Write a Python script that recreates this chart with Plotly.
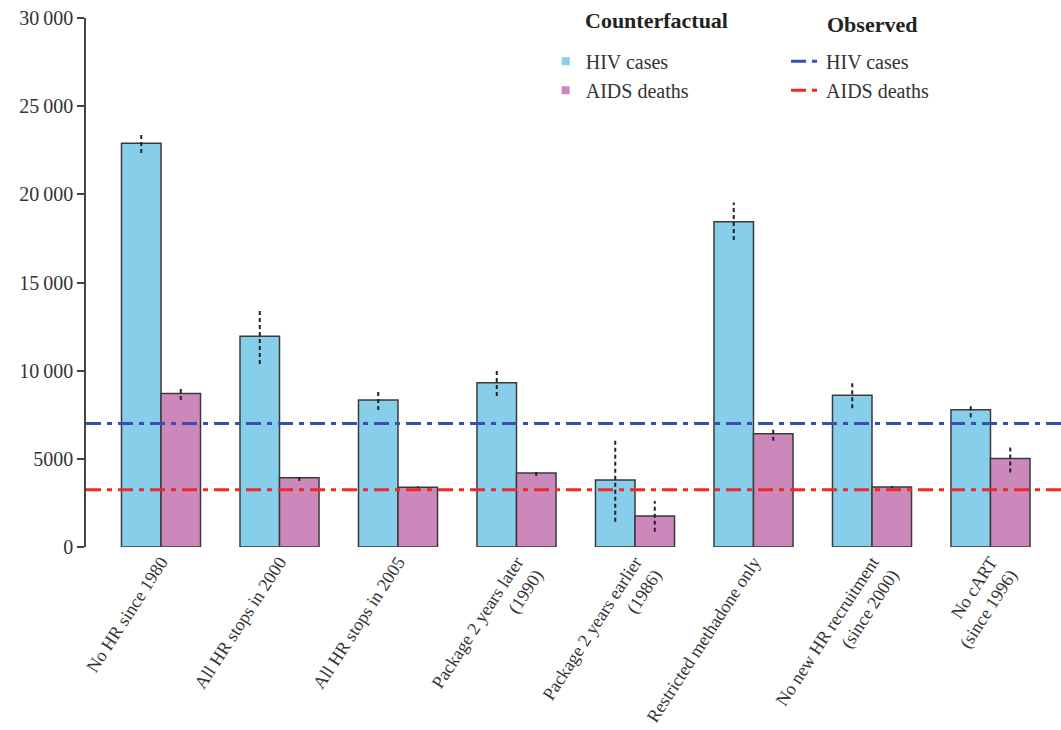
import plotly.graph_objects as go

# Scenario labels (x axis)
scenarios = [
    "No HR since 1980",
    "All HR stops in 2000",
    "All HR stops in 2005",
    "Package 2 years later<br>(1990)",
    "Package 2 years earlier<br>(1986)",
    "Restricted methadone only",
    "No new HR recruitment<br>(since 2000)",
    "No cART<br>(since 1996)",
]

# Counterfactual HIV cases: estimate, lower, upper
hiv_cases = [22900, 11950, 8330, 9320, 3800, 18450, 8600, 7780]
hiv_low = [22340, 10380, 7770, 8560, 1430, 17410, 7870, 7360]
hiv_high = [23480, 13550, 8900, 10040, 6170, 19530, 9280, 8110]

# Counterfactual AIDS deaths: estimate, lower, upper
aids_deaths = [8700, 3930, 3390, 4200, 1760, 6420, 3400, 5020]
aids_low = [8340, 3740, 3330, 4030, 870, 6030, 3340, 4220]
aids_high = [9020, 4140, 3440, 4420, 2610, 6820, 3460, 5790]

# Observed totals
observed_hiv = 7000
observed_aids = 3250

# Y axis ticks
y_ticks = [0, 5000, 10000, 15000, 20000, 25000, 30000]
y_tick_text = ["0", "5000", "10\u2009000", "15\u2009000", "20\u2009000", "25\u2009000", "30\u2009000"]

FONT = "Liberation Serif"
TXT = "#333333"
BLUE_FILL = "#87CEEB"
PINK_FILL = "#CC88BB"
OUTLINE = "#3a3a3a"

pos = list(range(len(scenarios)))
half = 1 / 6  # half of one bar's width within a group

fig = go.Figure()

fig.add_trace(go.Bar(
    x=pos, y=hiv_cases, name="HIV cases", showlegend=False,
    marker=dict(color=BLUE_FILL, line=dict(color=OUTLINE, width=1.5)),
))
fig.add_trace(go.Bar(
    x=pos, y=aids_deaths, name="AIDS deaths", showlegend=False,
    marker=dict(color=PINK_FILL, line=dict(color=OUTLINE, width=1.5)),
))

# Small square keys for the counterfactual legend
for nm, col in [("HIV cases", BLUE_FILL), ("AIDS deaths", PINK_FILL)]:
    fig.add_trace(go.Scatter(
        x=[None], y=[None], mode="markers", name=nm, legend="legend",
        marker=dict(symbol="square", size=8, color=col, line=dict(width=0)),
    ))

# Dashed uncertainty ranges
def ranges(offset, lows, highs):
    xs, ys = [], []
    for p, lo, hi in zip(pos, lows, highs):
        xs += [p + offset, p + offset, None]
        ys += [lo, hi, None]
    return xs, ys

for off, lo, hi in [(-half, hiv_low, hiv_high), (half, aids_low, aids_high)]:
    xs, ys = ranges(off, lo, hi)
    fig.add_trace(go.Scatter(
        x=xs, y=ys, mode="lines", showlegend=False, hoverinfo="skip",
        line=dict(color="#222222", width=2, dash="4px,3px"),
    ))

# Observed reference lines spanning the plot
x_range = [-0.633, 7.595]
for val, col, nm in [(observed_hiv, "#3A4DB0", "HIV cases"), (observed_aids, "#F02828", "AIDS deaths")]:
    fig.add_trace(go.Scatter(
        x=x_range, y=[val, val], mode="lines", name=nm, legend="legend2",
        line=dict(color=col, width=3, dash="15px,6px,5px,6px"),
    ))

legend_style = dict(
    xanchor="left", yanchor="top", bgcolor="rgba(0,0,0,0)",
    font=dict(family=FONT, size=20, color=TXT), tracegroupgap=0, itemwidth=30,
)

fig.update_layout(
    width=1061, height=730,
    margin=dict(l=86, r=0, t=18, b=183),
    paper_bgcolor="white", plot_bgcolor="white",
    font=dict(family=FONT, size=18, color=TXT),
    barmode="group", bargap=0.333, bargroupgap=0,
    showlegend=True,
    legend=dict(x=0.4715, y=0.955, **legend_style),
    legend2=dict(x=0.718, y=0.955, **legend_style),
    xaxis=dict(
        range=x_range, tickvals=pos, ticktext=scenarios, tickangle=-57,
        showline=False, showgrid=False, zeroline=False, ticks="",
        tickfont=dict(family=FONT, size=18, color=TXT), automargin=False,
    ),
    yaxis=dict(
        range=[0, 30000], tickvals=y_ticks, ticktext=y_tick_text,
        showline=True, linecolor="#444444", linewidth=1.5,
        ticks="outside", ticklen=7, tickcolor="#444444", tickwidth=1.5,
        showgrid=False, zeroline=False, automargin=False,
        tickfont=dict(family=FONT, size=20, color=TXT),
    ),
    annotations=[
        dict(text="<b>Counterfactual</b>", xref="paper", yref="paper",
             x=0.510, y=0.996, xanchor="left", yanchor="middle", showarrow=False,
             font=dict(family=FONT, size=22, color="#222222")),
        dict(text="<b>Observed</b>", xref="paper", yref="paper",
             x=0.758, y=0.988, xanchor="left", yanchor="middle", showarrow=False,
             font=dict(family=FONT, size=22, color="#222222")),
    ],
)

fig.write_html("out.html")
